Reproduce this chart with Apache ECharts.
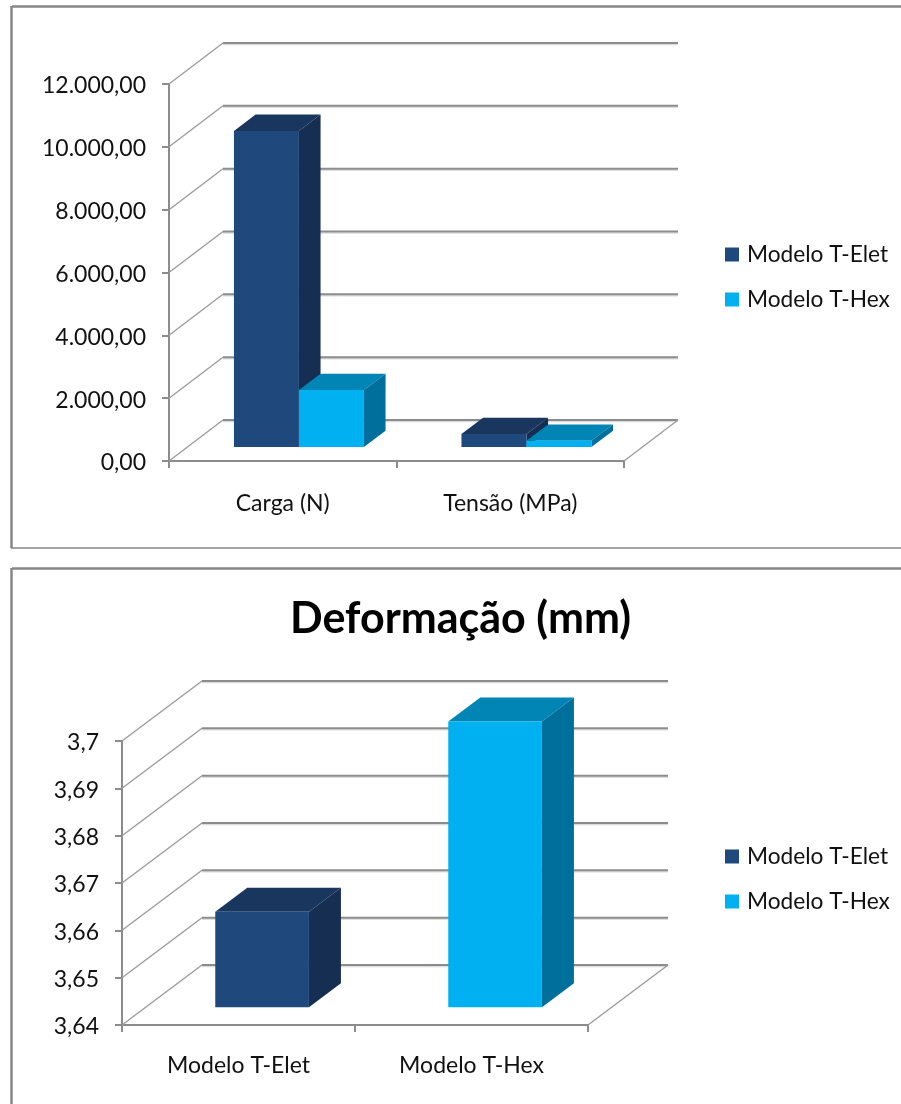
<!DOCTYPE html>
<html lang="pt-BR">
<head>
<meta charset="utf-8">
<title>Modelo T-Elet e Modelo T-Hex</title>
<style>
  html, body { margin: 0; padding: 0; background: #fff; }
  #chart { width: 901px; height: 1104px; }
</style>
<script src="https://cdn.jsdelivr.net/npm/echarts@6/dist/echarts.min.js"></script>
</head>
<body>
<div id="chart"></div>
<script>
const seriesNames = ['Modelo T-Elet', 'Modelo T-Hex'];

const cargaCategories = ['Carga (N)', 'Tensão (MPa)'];
const cargaElet = [10060, 414];
const cargaHex = [1815, 200];
const cargaTicks = [0, 2000, 4000, 6000, 8000, 10000, 12000];
const cargaTickLabels = ['0,00', '2.000,00', '4.000,00', '6.000,00', '8.000,00', '10.000,00', '12.000,00'];

const deformTitle = 'Deformação (mm)';
const deformCategories = ['Modelo T-Elet', 'Modelo T-Hex'];
const deformElet = [3.6602, null];
const deformHex = [null, 3.7004];
const deformTicks = [3.64, 3.65, 3.66, 3.67, 3.68, 3.69, 3.7];
const deformTickLabels = ['3,64', '3,65', '3,66', '3,67', '3,68', '3,69', '3,7'];

const FONT = 'Lato';
const TEXT_SIZE = 23;
const GRID_LINE = '#8c8c8c';
const GRID_SOFT = '#dcdcdc';
const DIAGONAL = '#9a9a9a';

const palette = [
  { front: '#1F497D', top: '#19365F', side: '#162E52' },
  { front: '#00B0F0', top: '#0085B5', side: '#006F9B' }
];

// Paredes em perspectiva: diagonal lateral, linha do fundo e borda direita do piso
function wallRenderer(depth) {
  return function (params, api) {
    const v = api.value(0);
    const y = api.coord([0, v])[1];
    const cs = params.coordSys;
    const left = cs.x, right = cs.x + cs.width;
    const children = [
      { type: 'line', shape: { x1: left + depth.dx, y1: y - depth.dy + 1.5, x2: right + depth.dx, y2: y - depth.dy + 1.5 },
        style: { stroke: GRID_SOFT, lineWidth: 1.5 } },
      { type: 'line', shape: { x1: left + depth.dx, y1: y - depth.dy, x2: right + depth.dx, y2: y - depth.dy },
        style: { stroke: GRID_LINE, lineWidth: 2 } },
      { type: 'line', shape: { x1: left, y1: y, x2: left + depth.dx, y2: y - depth.dy },
        style: { stroke: DIAGONAL, lineWidth: 1.3 } }
    ];
    if (params.dataIndex === 0) {
      children.push({ type: 'line', shape: { x1: right, y1: y, x2: right + depth.dx, y2: y - depth.dy },
        style: { stroke: DIAGONAL, lineWidth: 1.3 } });
    }
    return { type: 'group', children };
  };
}

// Coluna 3D: face frontal, topo e lateral a partir da escala do eixo
function barRenderer(opts) {
  return function (params, api) {
    const value = api.value(1);
    if (value === null || isNaN(value)) return null;
    const colors = palette[opts.color];
    const band = api.size([1, 0])[0];
    const width = band * opts.widthFrac;
    const center = api.coord([api.value(0), opts.min]);
    const offX = opts.depth.dx * opts.frontFracX;
    const offY = opts.depth.dy * opts.frontFracY;
    const sx = opts.depth.dx * opts.depthFrac;
    const sy = opts.depth.dy * opts.depthFrac;
    const x0 = center[0] + offX + width * opts.slot;
    const x1 = x0 + width;
    const yb = center[1] - offY;
    const yt = api.coord([api.value(0), value])[1] - offY;
    const poly = (points, fill) => ({ type: 'polygon', shape: { points }, style: { fill } });
    return {
      type: 'group',
      children: [
        poly([[x0, yt], [x1, yt], [x1 + sx, yt - sy], [x0 + sx, yt - sy]], colors.top),
        poly([[x1, yb], [x1 + sx, yb - sy], [x1 + sx, yt - sy], [x1, yt]], colors.side),
        poly([[x0, yb], [x1, yb], [x1, yt], [x0, yt]], colors.front)
      ]
    };
  };
}

const axisLine = { show: true, lineStyle: { color: GRID_LINE, width: 2 } };
const axisTick = (length) => ({ show: true, length, lineStyle: { color: GRID_LINE, width: 2 } });

function buildAxes(gridIndex, categories, ticks, tickLabels, labelMargin, catMargin) {
  return {
    x: {
      type: 'category', gridIndex, data: categories,
      axisLine, axisTick: axisTick(7),
      axisLabel: { color: '#111', fontFamily: FONT, fontSize: TEXT_SIZE, margin: catMargin },
      splitLine: { show: false }
    },
    y: {
      type: 'value', gridIndex,
      min: ticks[0], max: ticks[ticks.length - 1], interval: ticks[1] - ticks[0],
      axisLine, axisTick: axisTick(7),
      axisLabel: {
        color: '#111', fontFamily: FONT, fontSize: TEXT_SIZE, margin: labelMargin,
        verticalAlign: 'top', lineHeight: 4,
        formatter: (value, index) => tickLabels[index]
      },
      splitLine: { show: false }
    }
  };
}

const cargaAxes = buildAxes(0, cargaCategories, cargaTicks, cargaTickLabels, 23, 31);
const deformAxes = buildAxes(1, deformCategories, deformTicks, deformTickLabels, 23, 29);

const cargaDepth = { dx: 54, dy: 41 };
const deformDepth = { dx: 80, dy: 60 };

const legendBase = {
  orient: 'vertical', icon: 'rect', itemWidth: 14, itemHeight: 14, itemGap: 22, padding: 0,
  selectedMode: false, data: seriesNames,
  textStyle: { fontFamily: FONT, fontSize: 22.7, color: '#111', padding: [0, 0, 0, 3] }
};

const option = {
  animation: false,
  backgroundColor: '#fff',
  title: {
    text: deformTitle, left: 455.5, top: 593, textAlign: 'center',
    textStyle: { fontFamily: FONT, fontWeight: 'bold', fontSize: 43, color: '#000' }
  },
  legend: [
    Object.assign({}, legendBase, { left: 725, top: 243 }),
    Object.assign({}, legendBase, { left: 725, top: 845 })
  ],
  graphic: [
    { type: 'line', silent: true, shape: { x1: 12, y1: 6.5, x2: 901, y2: 6.5 }, style: { stroke: '#868686', lineWidth: 2.5 } },
    { type: 'line', silent: true, shape: { x1: 11.5, y1: 6, x2: 11.5, y2: 548 }, style: { stroke: '#868686', lineWidth: 2.5 } },
    { type: 'line', silent: true, shape: { x1: 11, y1: 548, x2: 901, y2: 548 }, style: { stroke: '#868686', lineWidth: 1.3 } },
    { type: 'line', silent: true, shape: { x1: 12, y1: 568.5, x2: 901, y2: 568.5 }, style: { stroke: '#868686', lineWidth: 2.5 } },
    { type: 'line', silent: true, shape: { x1: 11.5, y1: 568, x2: 11.5, y2: 1104 }, style: { stroke: '#868686', lineWidth: 2.5 } }
  ],
  grid: [
    { left: 169, top: 84, width: 455, height: 377, containLabel: false },
    { left: 122, top: 741, width: 466, height: 284, containLabel: false }
  ],
  xAxis: [cargaAxes.x, deformAxes.x],
  yAxis: [cargaAxes.y, deformAxes.y],
  series: [
    {
      type: 'custom', xAxisIndex: 0, yAxisIndex: 0, silent: true,
      renderItem: wallRenderer(cargaDepth), data: cargaTicks.map(v => [v]),
      encode: { y: 0 }
    },
    {
      type: 'custom', xAxisIndex: 1, yAxisIndex: 1, silent: true,
      renderItem: wallRenderer(deformDepth), data: deformTicks.map(v => [v]),
      encode: { y: 0 }
    },
    {
      type: 'custom', name: seriesNames[0], xAxisIndex: 0, yAxisIndex: 0,
      itemStyle: { color: palette[0].front },
      renderItem: barRenderer({ color: 0, slot: -1, widthFrac: 0.2857, min: cargaTicks[0], depth: cargaDepth, frontFracX: 0.3, frontFracY: 0.34, depthFrac: 0.4 }),
      data: cargaElet.map((v, i) => [i, v]), encode: { x: 0, y: 1 }
    },
    {
      type: 'custom', name: seriesNames[1], xAxisIndex: 0, yAxisIndex: 0,
      itemStyle: { color: palette[1].front },
      renderItem: barRenderer({ color: 1, slot: 0, widthFrac: 0.2857, min: cargaTicks[0], depth: cargaDepth, frontFracX: 0.3, frontFracY: 0.34, depthFrac: 0.4 }),
      data: cargaHex.map((v, i) => [i, v]), encode: { x: 0, y: 1 }
    },
    {
      type: 'custom', name: seriesNames[0], xAxisIndex: 1, yAxisIndex: 1,
      itemStyle: { color: palette[0].front },
      renderItem: barRenderer({ color: 0, slot: -0.5, widthFrac: 0.402, min: deformTicks[0], depth: deformDepth, frontFracX: 0.295, frontFracY: 0.295, depthFrac: 0.4 }),
      data: deformElet.map((v, i) => [i, v]), encode: { x: 0, y: 1 }
    },
    {
      type: 'custom', name: seriesNames[1], xAxisIndex: 1, yAxisIndex: 1,
      itemStyle: { color: palette[1].front },
      renderItem: barRenderer({ color: 1, slot: -0.5, widthFrac: 0.402, min: deformTicks[0], depth: deformDepth, frontFracX: 0.295, frontFracY: 0.295, depthFrac: 0.4 }),
      data: deformHex.map((v, i) => [i, v]), encode: { x: 0, y: 1 }
    }
  ]
};

const chart = echarts.init(document.getElementById('chart'), null, { renderer: 'canvas' });
chart.setOption(option);
</script>
</body>
</html>
